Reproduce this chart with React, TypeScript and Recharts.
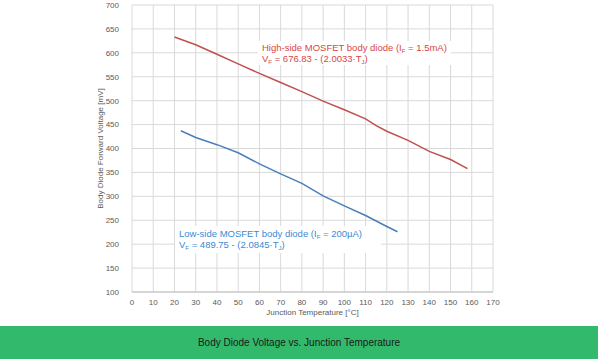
import React from 'react';
import { LineChart, Line, XAxis, YAxis, CartesianGrid } from 'recharts';

const highTemps = [20, 30, 40, 50, 60, 70, 80, 90, 100, 110, 115, 120, 130, 140, 150, 158];
const highVolts = [633, 617, 597, 577, 557, 538, 519, 499, 481, 462, 448, 436, 417, 394, 377, 358];
const lowTemps = [23, 30, 40, 50, 60, 70, 80, 90, 100, 110, 120, 125];
const lowVolts = [437, 423, 408, 391, 368, 347, 327, 301, 280, 260, 237, 226];
const xTicks = [0, 10, 20, 30, 40, 50, 60, 70, 80, 90, 100, 110, 120, 130, 140, 150, 160, 170];
const yTicks = [100, 150, 200, 250, 300, 350, 400, 450, 500, 550, 600, 650, 700];

const highData = highTemps.map((t, i) => ({ t, v: highVolts[i] }));
const lowData = lowTemps.map((t, i) => ({ t, v: lowVolts[i] }));

const FONT = '"Liberation Sans Narrow", "Liberation Sans", sans-serif';
const subStyle: React.CSSProperties = { fontSize: 6, position: 'relative', top: 2, lineHeight: 0 };

export default function App() {
  return (
    <div style={{ position: 'absolute', left: 0, top: 0, width: 598, height: 359, background: '#fff', fontFamily: FONT }}>
      <LineChart width={598} height={320} margin={{ top: 5, right: 105, bottom: 8, left: 92 }}>
        <CartesianGrid stroke="#d9d9d9" strokeWidth={1} />
        <XAxis
          type="number"
          dataKey="t"
          domain={[0, 170]}
          ticks={xTicks}
          interval={0}
          height={20}
          allowDataOverflow
          axisLine={{ stroke: '#bfbfbf' }}
          tickLine={false}
          tick={{ fontSize: 8, fill: '#595959', fontFamily: FONT }}
          tickMargin={1}
          label={{ value: 'Junction Temperature [°C]', position: 'insideBottom', offset: -3, fontSize: 8, fill: '#595959', fontFamily: FONT }}
        />
        <YAxis
          type="number"
          dataKey="v"
          domain={[100, 700]}
          ticks={yTicks}
          interval={0}
          width={40}
          axisLine={false}
          tickLine={false}
          tick={{ fontSize: 8, fill: '#595959', fontFamily: FONT }}
          tickMargin={7}
          label={{ value: 'Body Diode Forward Voltage [mV]', angle: -90, position: 'insideLeft', offset: 8, fontSize: 8, fill: '#595959', fontFamily: FONT, style: { textAnchor: 'middle' } }}
        />
        <Line data={highData} dataKey="v" type="linear" stroke="#c0504d" strokeWidth={1.5} dot={false} isAnimationActive={false} />
        <Line data={lowData} dataKey="v" type="linear" stroke="#4a7ebb" strokeWidth={1.5} dot={false} isAnimationActive={false} />
      </LineChart>
      <div style={{ position: 'absolute', left: 258, top: 41, background: '#fff', color: '#d9463f', fontSize: 9.5, lineHeight: '11px', padding: '1px 4px', whiteSpace: 'nowrap' }}>
        <div>High-side MOSFET body diode (I<span style={subStyle}>F</span> = 1.5mA)</div>
        <div>V<span style={subStyle}>F</span> = 676.83 - (2.0033·T<span style={subStyle}>J</span>)</div>
      </div>
      <div style={{ position: 'absolute', left: 175, top: 226, background: '#fff', color: '#3a8ad6', fontSize: 9.5, lineHeight: '11px', padding: '2px 4px 3px 4px', width: 198, whiteSpace: 'nowrap' }}>
        <div>Low-side MOSFET body diode (I<span style={subStyle}>F</span> = 200µA)</div>
        <div>V<span style={subStyle}>F</span> = 489.75 - (2.0845·T<span style={subStyle}>J</span>)</div>
      </div>
      <div style={{ position: 'absolute', left: 0, top: 326, width: 598, height: 33, background: '#33b96b', display: 'flex', alignItems: 'center', justifyContent: 'center', color: '#1a1a1a', fontSize: 10 }}>
        Body Diode Voltage vs. Junction Temperature
      </div>
    </div>
  );
}
